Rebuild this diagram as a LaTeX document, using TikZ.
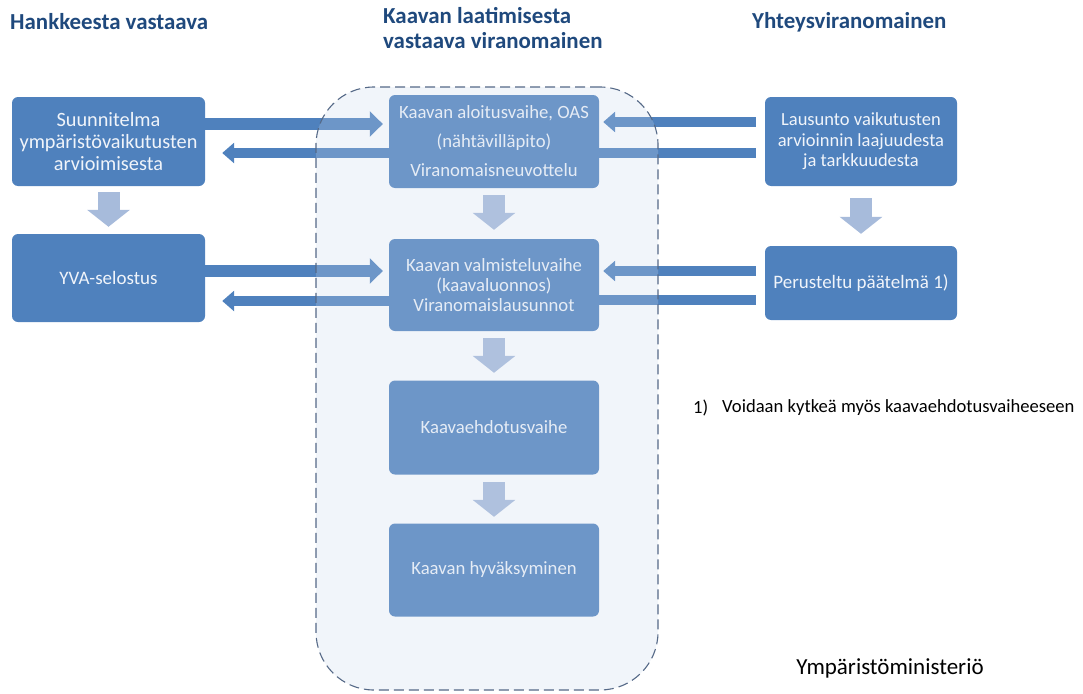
\documentclass[tikz,border=0pt]{standalone}
\usepackage{fontspec}
\setmainfont{Carlito}
\usetikzlibrary{arrows.meta}
\definecolor{boxblue}{RGB}{79,129,189}
\definecolor{hdr}{RGB}{31,73,125}
\definecolor{downc}{RGB}{167,187,219}
\definecolor{contfill}{RGB}{200,214,234}
\definecolor{dashc}{RGB}{85,105,135}
\definecolor{boxtext}{RGB}{240,244,250}
\begin{document}
\begin{tikzpicture}[x=1pt,y=-1pt,
  box/.style={fill=boxblue, rounded corners=6pt, draw=none, text=boxtext,
    align=center, inner sep=0pt, font=\fontsize{19}{22}\selectfont},
  hdrtext/.style={text=hdr, inner sep=0pt, font=\fontsize{22.9}{25}\selectfont\bfseries},
  fatarrow/.style={draw=boxblue, line width=12pt, -{Triangle[width=25pt,length=13pt]}},
  thinarrow/.style={draw=boxblue, line width=9.5pt, -{Triangle[width=20pt,length=12pt]}},
  flatbar/.style={draw=boxblue, line width=9.5pt},
  downarrow/.style={draw=downc, line width=22pt, -{Triangle[width=42pt,length=17pt]}},
  plaintext/.style={inner sep=0pt, text=black, font=\fontsize{18.6}{21}\selectfont}
]
\useasboundingbox (0,0) rectangle (1083,693);

% headers
\node[hdrtext, anchor=west] (h1) at (10,22) {Hankkeesta vastaava};
\node[hdrtext, anchor=north west, align=left] (h2) at (383,7) {Kaavan laatimisesta\\vastaava viranomainen};
\node[hdrtext, anchor=west] (h3) at (752,22) {Yhteysviranomainen};

% left boxes
\node[box, minimum width=193pt, minimum height=89pt, font=\fontsize{20.3}{22}\selectfont] (A1) at (108.5,141.5)
  {Suunnitelma\\ympäristövaikutusten\\arvioimisesta};
\node[box, minimum width=193pt, minimum height=88pt] (A2) at (108.5,278) {YVA-selostus};

% center boxes
\node[box, minimum width=210pt, minimum height=93pt, font=\fontsize{18.7}{29}\selectfont] (C1) at (494,141.5)
  {Kaavan aloitusvaihe, OAS\\(nähtävilläpito)\\Viranomaisneuvottelu};
\node[box, minimum width=210pt, minimum height=92pt, font=\fontsize{18.7}{20}\selectfont] (C2) at (494,285)
  {Kaavan valmisteluvaihe\\(kaavaluonnos)\\Viranomaislausunnot};
\node[box, minimum width=210pt, minimum height=94pt, font=\fontsize{18.7}{20}\selectfont] (C3) at (494,427.5) {Kaavaehdotusvaihe};
\node[box, minimum width=210pt, minimum height=93pt, font=\fontsize{18.7}{20}\selectfont] (C4) at (494,570) {Kaavan hyväksyminen};

% right boxes
\node[box, minimum width=192pt, minimum height=89pt, font=\fontsize{18.5}{20.5}\selectfont] (R1) at (861,141.5)
  {Lausunto vaikutusten\\arvioinnin laajuudesta\\ja tarkkuudesta};
\node[box, minimum width=192pt, minimum height=74pt] (R2) at (861,283) {Perusteltu päätelmä 1)};

% down arrows
\draw[downarrow] ([yshift=-6pt]A1.south) -- ([yshift=7pt]A2.north);
\draw[downarrow] ([yshift=-7pt]C1.south) -- ([yshift=9pt]C2.north);
\draw[downarrow] ([yshift=-7pt]C2.south) -- ([yshift=7.5pt]C3.north);
\draw[downarrow] ([yshift=-7.5pt]C3.south) -- ([yshift=6.5pt]C4.north);
\draw[downarrow] ([yshift=-12pt]R1.south) -- ([yshift=12pt]R2.north);

% left horizontal arrows
\draw[fatarrow] ([yshift=17.5pt]A1.east) -- ([xshift=-6pt,yshift=17.5pt]C1.west);
\draw[thinarrow] ([yshift=-11.5pt]C1.west) -- ([xshift=17pt,yshift=-11.5pt]A1.east);
\draw[fatarrow] ([yshift=7pt]A2.east) -- ([xshift=-6pt,yshift=14pt]C2.west);
\draw[thinarrow] ([yshift=-16pt]C2.west) -- ([xshift=17pt,yshift=-23pt]A2.east);

% right horizontal arrows
\draw[thinarrow] ([xshift=-9pt,yshift=19.5pt]R1.west) -- ([xshift=4pt,yshift=19.5pt]C1.east);
\draw[flatbar] ([yshift=-11.5pt]C1.east) -- ([xshift=-9pt,yshift=-11.5pt]R1.west);
\draw[thinarrow] ([xshift=-9pt,yshift=12pt]R2.west) -- ([xshift=4pt,yshift=14pt]C2.east);
\draw[flatbar] ([yshift=-15pt]C2.east) -- ([xshift=-9pt,yshift=-17pt]R2.west);

% container (drawn on top, translucent)
\node[minimum width=342pt, minimum height=603pt, rounded corners=58pt,
  fill=contfill, fill opacity=0.25, draw=dashc, line width=1.1pt,
  dash pattern=on 10pt off 5pt] (cont) at (487,388.5) {};

% footnote and credit
\node[plaintext, anchor=west] (fn1) at (693,408) {1)};
\node[plaintext, anchor=west] (fn2) at (722,408) {Voidaan kytkeä myös kaavaehdotusvaiheeseen};
\node[plaintext, font=\fontsize{23}{26}\selectfont] (ym) at (890,668) {Ympäristöministeriö};
\end{tikzpicture}
\end{document}
